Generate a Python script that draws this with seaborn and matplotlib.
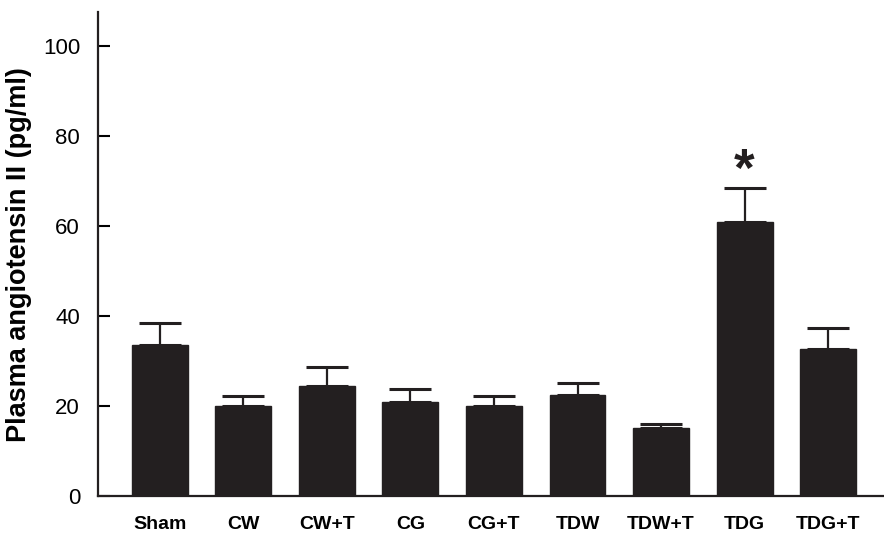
import matplotlib
matplotlib.use("Agg")
import matplotlib.pyplot as plt
import seaborn as sns
import pandas as pd
import numpy as np

groups = ["Sham", "CW", "CW+T", "CG", "CG+T", "TDW", "TDW+T", "TDG", "TDG+T"]
means = [33.6, 20.1, 24.4, 20.8, 20.1, 22.5, 15.1, 60.8, 32.6]
sem = [4.8, 2.2, 4.2, 2.9, 2.2, 2.5, 0.8, 7.7, 4.7]
y_ticks = [0, 20, 40, 60, 80, 100]
significant = ["TDG"]

sns.set_style("ticks")
plt.rcParams["font.family"] = ["Liberation Sans", "DejaVu Sans"]
plt.rcParams["text.color"] = "black"
plt.rcParams["xtick.color"] = "black"
plt.rcParams["ytick.color"] = "black"
plt.rcParams["axes.labelcolor"] = "black"

df = pd.DataFrame({"group": groups, "value": means, "sem": sem})

fig = plt.figure(figsize=(8.84, 5.34), dpi=100)
ax = fig.add_axes([0.111, 0.071, 0.889, 0.906])

bar_color = "#231f20"
sns.barplot(data=df, x="group", y="value", order=groups, color=bar_color,
            saturation=1, width=0.67, errorbar=None, ax=ax, edgecolor=bar_color)

xpos = np.arange(len(groups))
ax.errorbar(xpos, df["value"], yerr=[np.zeros(len(groups)), df["sem"]],
            fmt="none", ecolor=bar_color, elinewidth=1.6, capsize=15,
            capthick=2.2)

# significance marker above the error bar cap
for g in significant:
    i = groups.index(g)
    top = df.loc[i, "value"] + df.loc[i, "sem"]
    ax.text(i, top - 2.0, "*", ha="center", va="bottom", fontsize=38,
            fontweight="bold", color=bar_color)

ax.set_xlim(-0.74, 8.67)
ax.set_ylim(0, 107.4)
ax.set_yticks(y_ticks)
ax.set_xlabel("")
ax.set_ylabel("Plasma angiotensin II (pg/ml)", fontsize=19.5, fontweight="bold",
              labelpad=8)

ax.tick_params(axis="y", direction="in", length=8.5, width=1.5, labelsize=16,
               pad=13)
ax.tick_params(axis="x", length=0, labelsize=14, pad=14)
for lab in ax.get_xticklabels():
    lab.set_fontweight("bold")

sns.despine(ax=ax)
for side in ("left", "bottom"):
    ax.spines[side].set_linewidth(1.6)
    ax.spines[side].set_color(bar_color)

fig.savefig("out.png", dpi=100)
